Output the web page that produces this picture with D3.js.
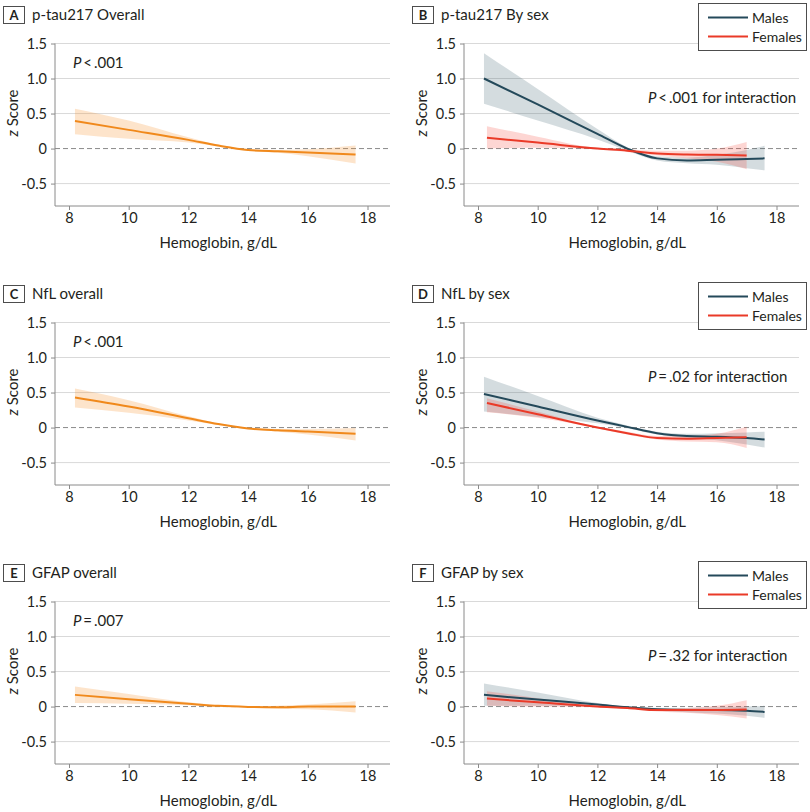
<!DOCTYPE html>
<html><head><meta charset="utf-8">
<script src="https://cdn.jsdelivr.net/npm/d3@7"></script>
<style>
body{margin:0;background:#fff;}
text{font-family:Lato,"Liberation Sans",Arial,sans-serif;fill:#231f20;}
</style></head>
<body><svg id="c" width="810" height="812"></svg>
<script>
// ---------- data ----------
const xTicks = [8, 10, 12, 14, 16, 18];
const yTicks = [1.5, 1.0, 0.5, 0, -0.5];
const yTickLabels = ["1.5", "1.0", "0.5", "0", "-0.5"];
const seriesNames = ["Males", "Females"];

// A: p-tau217 overall
const aX   = [8.2, 10, 12, 13, 14, 15, 16, 17.6];
const aFit = [0.395, 0.267, 0.124, 0.043, -0.02, -0.04, -0.057, -0.086];
const aHi  = [0.57, 0.40, 0.16, 0.055, -0.01, -0.02, -0.01, 0.043];
const aLo  = [0.205, 0.14, 0.086, 0.03, -0.03, -0.06, -0.11, -0.214];

// B: p-tau217 by sex
const bMX   = [8.2, 10, 12, 13, 14, 15, 16, 17, 17.6];
const bMFit = [1.0, 0.63, 0.21, 0.0, -0.14, -0.17, -0.16, -0.15, -0.14];
const bMHi  = [1.36, 0.85, 0.28, 0.02, -0.11, -0.13, -0.09, -0.02, 0.04];
const bMLo  = [0.64, 0.40, 0.13, -0.03, -0.17, -0.21, -0.23, -0.28, -0.31];
const bFX   = [8.3, 10, 12, 13, 14, 15, 16, 17];
const bFFit = [0.155, 0.086, 0.0, -0.03, -0.07, -0.085, -0.09, -0.10];
const bFHi  = [0.32, 0.17, 0.01, -0.01, -0.03, -0.03, 0.0, 0.095];
const bFLo  = [0.0, 0.01, -0.01, -0.05, -0.10, -0.14, -0.19, -0.295];

// C: NfL overall
const cX   = [8.2, 10, 12, 13, 14, 15, 16, 17.6];
const cFit = [0.43, 0.30, 0.133, 0.05, -0.014, -0.04, -0.057, -0.09];
const cHi  = [0.557, 0.39, 0.16, 0.06, -0.005, -0.02, -0.02, -0.005];
const cLo  = [0.286, 0.21, 0.10, 0.035, -0.02, -0.06, -0.10, -0.186];

// D: NfL by sex
const dMX   = [8.2, 10, 12, 13, 14, 15, 16, 17, 17.6];
const dMFit = [0.48, 0.30, 0.10, 0.01, -0.08, -0.12, -0.13, -0.15, -0.17];
const dMHi  = [0.725, 0.45, 0.14, 0.03, -0.06, -0.09, -0.08, -0.07, -0.06];
const dMLo  = [0.23, 0.15, 0.06, -0.01, -0.10, -0.15, -0.18, -0.24, -0.285];
const dFX   = [8.3, 10, 12, 13, 14, 15, 16, 17];
const dFFit = [0.35, 0.19, 0.0, -0.08, -0.15, -0.16, -0.15, -0.14];
const dFHi  = [0.42, 0.23, 0.01, -0.06, -0.12, -0.12, -0.09, 0.01];
const dFLo  = [0.22, 0.14, -0.01, -0.10, -0.17, -0.20, -0.21, -0.29];

// E: GFAP overall
const eX   = [8.2, 10, 12, 13, 14, 15, 16, 17.6];
const eFit = [0.167, 0.105, 0.04, 0.01, -0.005, -0.01, 0.0, 0.0];
const eHi  = [0.286, 0.18, 0.06, 0.02, 0.0, 0.01, 0.03, 0.076];
const eLo  = [0.05, 0.04, 0.02, 0.0, -0.01, -0.03, -0.04, -0.086];

// F: GFAP by sex
const fMX   = [8.2, 10, 12, 13, 14, 15, 16, 17, 17.6];
const fMFit = [0.167, 0.10, 0.03, -0.01, -0.04, -0.05, -0.05, -0.06, -0.076];
const fMHi  = [0.33, 0.20, 0.05, 0.0, -0.02, -0.02, -0.01, 0.0, 0.01];
const fMLo  = [0.01, 0.01, 0.01, -0.02, -0.06, -0.08, -0.10, -0.13, -0.16];
const fFX   = [8.3, 10, 12, 13, 14, 15, 16, 17];
const fFFit = [0.114, 0.06, 0.0, -0.02, -0.05, -0.05, -0.05, -0.043];
const fFHi  = [0.22, 0.12, 0.01, -0.01, -0.03, -0.02, 0.01, 0.09];
const fFLo  = [0.01, 0.0, -0.01, -0.03, -0.07, -0.09, -0.12, -0.17];

const panelLetters = ["A", "B", "C", "D", "E", "F"];
const panelTitles = ["p-tau217 Overall", "p-tau217 By sex", "NfL overall", "NfL by sex", "GFAP overall", "GFAP by sex"];
const pLabels = [".001", ".001", ".001", ".02", ".007", ".32"];
const pOps = ["<", "<", "<", "=", "=", "="];

// ---------- build ----------
function ser(x, fit, lo, hi) { return x.map((v, i) => ({x: v, y: fit[i], lo: lo[i], hi: hi[i]})); }
const panels = [
  {overall: ser(aX, aFit, aLo, aHi)},
  {males: ser(bMX, bMFit, bMLo, bMHi), females: ser(bFX, bFFit, bFLo, bFHi)},
  {overall: ser(cX, cFit, cLo, cHi)},
  {males: ser(dMX, dMFit, dMLo, dMHi), females: ser(dFX, dFFit, dFLo, dFHi)},
  {overall: ser(eX, eFit, eLo, eHi)},
  {males: ser(fMX, fMFit, fMLo, fMHi), females: ser(fFX, fFFit, fFLo, fFHi)}
];

const COL = {overall: "#f0891c", males: "#24495a", females: "#ea3a28"};
const BAND = {overall: "rgba(246,150,55,0.26)", males: "rgba(60,95,110,0.22)", females: "rgba(245,70,55,0.22)"};

const svg = d3.select("#c");
const x = d3.scaleLinear().domain([8, 18]).range([69, 367.5]);
const y = d3.scaleLinear().domain([-0.82, 1.5]).range([206, 43.5]);
const axL = 55, axR = 390;

panels.forEach((p, i) => {
  const col = i % 2, row = Math.floor(i / 2);
  const g = svg.append("g").attr("transform", `translate(${col * 409},${row * 279})`);

  // header
  g.append("rect").attr("x", 3.5).attr("y", 6.5).attr("width", 21).attr("height", 17)
    .attr("fill", "#fff").attr("stroke", "#4d4d4d").attr("stroke-width", 1);
  g.append("text").attr("x", 14).attr("y", 20).attr("text-anchor", "middle")
    .style("font-size", "13px").style("font-weight", "bold").text(panelLetters[i]);
  g.append("text").attr("x", 32).attr("y", 19.5).style("font-size", "15px").text(panelTitles[i]);

  // grid
  g.selectAll("line.grid").data(yTicks.filter(t => t !== 0)).enter().append("line")
    .attr("x1", axL).attr("x2", axR).attr("y1", d => y(d)).attr("y2", d => y(d))
    .attr("stroke", "#d9d9d9").attr("stroke-width", 1);
  g.append("line").attr("x1", axL).attr("x2", axR).attr("y1", y(0)).attr("y2", y(0))
    .attr("stroke", "#8a8a8a").attr("stroke-width", 1).attr("stroke-dasharray", "5,3");

  // y axis
  const ya = g.append("g").attr("transform", `translate(${axL},0)`)
    .call(d3.axisLeft(y).tickValues(yTicks).tickSize(4).tickPadding(4)
      .tickFormat((d, k) => yTickLabels[k]));
  ya.select(".domain").attr("d", `M0,${y(1.5)}V${y.range()[0]}`).attr("stroke", "#8a8a8a");
  ya.selectAll(".tick line").attr("stroke", "#8a8a8a");
  ya.selectAll(".tick text").style("font-size", "14.5px").attr("fill", "#231f20");

  // x axis
  const xa = g.append("g").attr("transform", `translate(0,${y.range()[0]})`)
    .call(d3.axisBottom(x).tickValues(xTicks).tickSize(4).tickPadding(3));
  xa.select(".domain").attr("d", `M${axL},0H${axR}`).attr("stroke", "#8a8a8a");
  xa.selectAll(".tick line").attr("stroke", "#8a8a8a");
  xa.selectAll(".tick text").style("font-size", "14.5px").attr("fill", "#231f20");

  // axis titles
  const yt = g.append("text").attr("transform", "translate(18,113) rotate(-90)")
    .attr("text-anchor", "middle").style("font-size", "15px");
  yt.append("tspan").style("font-style", "italic").text("z");
  yt.append("tspan").text(" Score");
  g.append("text").attr("x", x(13)).attr("y", 248).attr("text-anchor", "middle")
    .style("font-size", "15px").text("Hemoglobin, g/dL");

  // bands and lines
  const area = d3.area().x(d => x(d.x)).y0(d => y(d.lo)).y1(d => y(d.hi)).curve(d3.curveMonotoneX);
  const line = d3.line().x(d => x(d.x)).y(d => y(d.y)).curve(d3.curveMonotoneX);
  const keys = p.overall ? ["overall"] : ["males", "females"];
  keys.forEach(k => {
    g.append("path").datum(p[k]).attr("d", area).attr("fill", BAND[k]);
  });
  keys.forEach(k => {
    g.append("path").datum(p[k]).attr("d", line).attr("fill", "none")
      .attr("stroke", COL[k]).attr("stroke-width", 2);
  });

  // P text
  const pt = g.append("text").style("font-size", "15px");
  if (p.overall) { pt.attr("x", 73).attr("y", 68); }
  else { pt.attr("x", 239).attr("y", 103); }
  pt.append("tspan").style("font-style", "italic").text("P");
  pt.append("tspan").text(`\u2009${pOps[i]}\u2009${pLabels[i]}` + (p.overall ? "" : " for interaction"));

  // legend
  if (!p.overall) {
    const lg = g.append("g");
    lg.append("rect").attr("x", 289.5).attr("y", 3.5).attr("width", 108).attr("height", 47)
      .attr("fill", "#fff").attr("stroke", "#4d4d4d").attr("stroke-width", 1);
    seriesNames.forEach((nm, k) => {
      const ly = 17.5 + k * 19;
      const key = k === 0 ? "males" : "females";
      lg.append("line").attr("x1", 299).attr("x2", 339).attr("y1", ly).attr("y2", ly)
        .attr("stroke", COL[key]).attr("stroke-width", 2);
      lg.append("text").attr("x", 343).attr("y", ly + 5).style("font-size", "14px").text(nm);
    });
  }
});
</script></body></html>
